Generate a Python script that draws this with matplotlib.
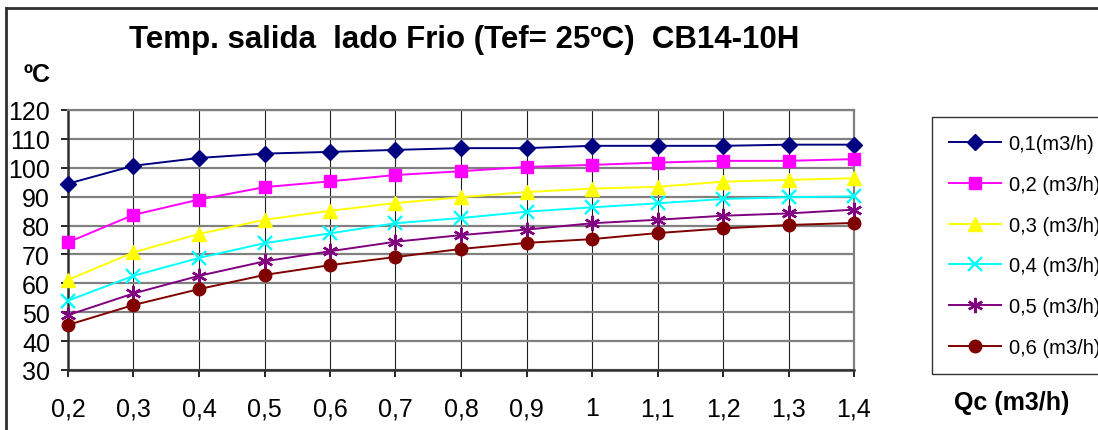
import matplotlib
matplotlib.use("Agg")
import matplotlib.pyplot as plt
from matplotlib.lines import Line2D

# caudal lado caliente Qc (m3/h)
qc = [0.2, 0.3, 0.4, 0.5, 0.6, 0.7, 0.8, 0.9, 1.0, 1.1, 1.2, 1.3, 1.4]
qc_labels = ["0,2", "0,3", "0,4", "0,5", "0,6", "0,7", "0,8", "0,9", "1", "1,1", "1,2", "1,3", "1,4"]

# temperatura de salida lado frio (ºC) para cada caudal frio
t_01 = [94.5, 100.7, 103.4, 104.9, 105.5, 106.2, 106.8, 106.8, 107.6, 107.6, 107.6, 108.0, 108.0]
t_02 = [74.2, 83.7, 89.0, 93.3, 95.3, 97.5, 98.8, 100.3, 101.0, 101.8, 102.4, 102.4, 103.0]
t_03 = [61.2, 70.7, 77.1, 82.0, 85.1, 87.8, 89.8, 91.6, 92.8, 93.4, 95.2, 95.8, 96.4]
t_04 = [54.0, 62.6, 68.8, 73.9, 77.3, 80.8, 82.6, 84.8, 86.3, 87.7, 89.2, 89.8, 90.1]
t_05 = [49.0, 56.5, 62.6, 67.6, 71.1, 74.4, 76.7, 78.6, 80.8, 82.0, 83.4, 84.2, 85.5]
t_06 = [45.6, 52.5, 58.0, 62.9, 66.3, 69.1, 71.9, 74.0, 75.3, 77.4, 79.0, 80.2, 80.9]

series_labels = ["0,1(m3/h)", "0,2 (m3/h)", "0,3 (m3/h)", "0,4 (m3/h)", "0,5 (m3/h)", "0,6 (m3/h)"]

plt.rcParams["font.family"] = ["Liberation Sans", "DejaVu Sans"]

W, H = 1098, 431
fig = plt.figure(figsize=(W / 100, H / 100), dpi=100)
ax = fig.add_axes([68 / W, 1 - 371 / H, (854 - 68) / W, (371 - 111) / H])

styles = [
    dict(color="#000080", marker="D", ms=8.5),
    dict(color="#FF00FF", marker="s", ms=8.5),
    dict(color="#FFFF00", marker="^", ms=10),
    dict(color="#00FFFF", marker="x", ms=10, mew=1.7),
    dict(color="#800080", marker=(6, 2, 0), ms=11, mew=1.7),
    dict(color="#800000", marker="o", ms=9),
]
for vals, lab, st in zip([t_01, t_02, t_03, t_04, t_05, t_06], series_labels, styles):
    ax.plot(qc, vals, lw=1.4, label=lab, clip_on=False, zorder=3, **st)

ax.set_xlim(qc[0], qc[-1])
ax.set_ylim(30, 120)
ax.set_xticks(qc)
ax.set_xticklabels(qc_labels)
ax.set_yticks(range(30, 121, 10))

ax.grid(axis="y", color="#808080", lw=1.6)
ax.grid(axis="x", color="#202020", lw=0.8)
ax.set_axisbelow(True)

for s in ("top", "right"):
    ax.spines[s].set_color("#808080")
    ax.spines[s].set_linewidth(1.6)
for s in ("left", "bottom"):
    ax.spines[s].set_color("#303030")
    ax.spines[s].set_linewidth(1.8)

ax.tick_params(axis="y", length=5, width=1.2, pad=8, labelsize=18, colors="black")
ax.tick_params(axis="x", length=5, width=1.2, pad=14, labelsize=18, colors="black")

fig.text(464 / W, 1 - 40 / H, "Temp. salida  lado Frio (Tef= 25ºC)  CB14-10H",
         ha="center", va="center", fontsize=22.5, fontweight="bold")
fig.text(37 / W, 1 - 75 / H, "ºC", ha="center", va="center", fontsize=18, fontweight="bold")
fig.text(1012 / W, 1 - 403 / H, "Qc (m3/h)", ha="center", va="center", fontsize=18, fontweight="bold")

# marco del grafico
fig.add_artist(Line2D([6 / W, 6 / W], [0, 1 - 9 / H], color="#303030", lw=2, transform=fig.transFigure))
fig.add_artist(Line2D([6 / W, 1], [1 - 9 / H, 1 - 9 / H], color="#303030", lw=2, transform=fig.transFigure))

leg = fig.legend(loc="upper left", bbox_to_anchor=(932 / W, 1 - 118 / H), fontsize=14.5,
                 frameon=True, fancybox=False, edgecolor="black", borderaxespad=0,
                 labelspacing=1.08, handlelength=2.6, handletextpad=0.35, borderpad=0.85)
leg.get_frame().set_linewidth(1.0)

fig.savefig("out.png", dpi=100)
